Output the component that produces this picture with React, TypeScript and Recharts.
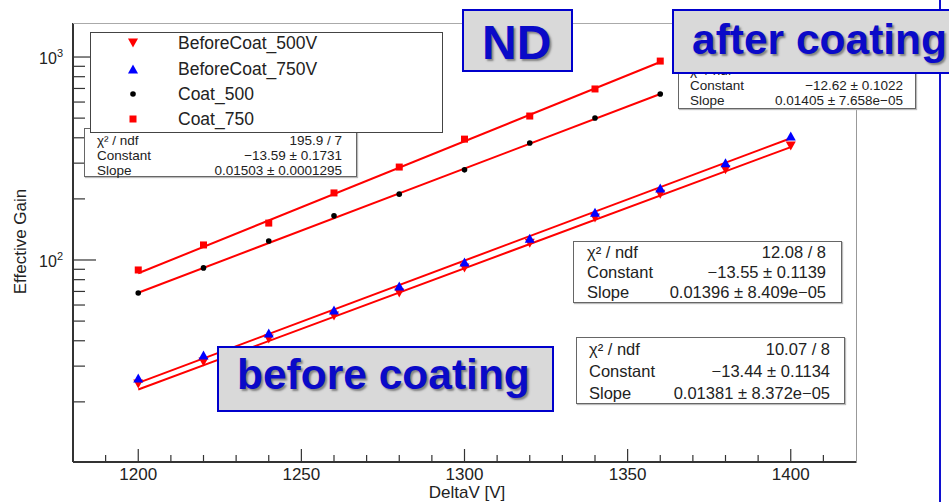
import { ComposedChart, Line, Scatter, XAxis, YAxis } from "recharts";

const FONT = "'Liberation Sans', Arial, Helvetica, sans-serif";

// measured points (DeltaV [V] -> effective gain)
const voltsCoat = [1200, 1220, 1240, 1260, 1280, 1300, 1320, 1340, 1360];
const coat750 = [89.3, 118.6, 152, 214, 287, 394, 512, 696, 955];
const coat500 = [68.8, 91.4, 124, 165, 211, 278, 377, 501, 657];

const voltsBefore = [1200, 1220, 1240, 1260, 1280, 1300, 1320, 1340, 1360, 1380, 1400];
const before750 = [26.2, 34.0, 43.7, 56.7, 74.5, 97.7, 128, 172, 226, 301, 408];
const before500 = [24.5, 31.4, 40.8, 53.0, 68.8, 91.4, 121, 161, 211, 278, 364];

// exponential fit lines, start / end values
const coatFitVolts = [1200, 1360];
const coat750Fit = [86, 945];
const coat500Fit = [69, 657];
const beforeFitVolts = [1200, 1400];
const before750Fit = [24.8, 398];
const before500Fit = [23.0, 360];

const xTicks = [1190, 1200, 1210, 1220, 1230, 1240, 1250, 1260, 1270, 1280, 1290, 1300, 1310, 1320, 1330, 1340, 1350, 1360, 1370, 1380, 1390, 1400, 1410];
const yTicks = [20, 30, 40, 50, 60, 70, 80, 90, 100, 200, 300, 400, 500, 600, 700, 800, 900, 1000];

const pts = (xs: number[], ys: number[]) => xs.map((x, i) => ({ x, y: ys[i] }));

const RED = "#ff0000";
const BLUE = "#0000ff";

const TriDown = (p: any) => (
  <polygon points={`${p.cx - 5},${p.cy - 4.5} ${p.cx + 5},${p.cy - 4.5} ${p.cx},${p.cy + 4.5}`} fill={RED} />
);
const TriUp = (p: any) => (
  <polygon points={`${p.cx - 5},${p.cy + 4.5} ${p.cx + 5},${p.cy + 4.5} ${p.cx},${p.cy - 4.5}`} fill={BLUE} />
);
const Dot = (p: any) => <circle cx={p.cx} cy={p.cy} r={2.8} fill="#000" />;
const Square = (p: any) => <rect x={p.cx - 3.5} y={p.cy - 3.5} width={7} height={7} fill={RED} />;

const XTick = (props: any) => {
  const { x, y, payload } = props;
  const major = payload.value % 50 === 0;
  return (
    <g>
      <line x1={x} y1={y} x2={x} y2={y - (major ? 13 : 7)} stroke="#333" strokeWidth={1.2} />
      {major && (
        <text x={x} y={y + 18} textAnchor="middle" fontSize={17} fill="#222" fontFamily={FONT}>
          {payload.value}
        </text>
      )}
    </g>
  );
};

const YTick = (props: any) => {
  const { x, y, payload } = props;
  const v = payload.value;
  const major = v === 100 || v === 1000;
  return (
    <g>
      <line x1={x} y1={y} x2={x + (major ? 23 : 12)} y2={y} stroke="#333" strokeWidth={1.2} />
      {major && (
        <text x={x - 10} y={y + 7} textAnchor="end" fontSize={16} fill="#222" fontFamily={FONT}>
          <tspan>10</tspan>
          <tspan fontSize={11} dy={-7}>{v === 100 ? "2" : "3"}</tspan>
        </text>
      )}
    </g>
  );
};

const abs = (left: number, top: number, width: number, height: number): React.CSSProperties => ({
  position: "absolute",
  left,
  top,
  width,
  height,
  boxSizing: "border-box",
});

function FitBox(props: {
  left: number; top: number; width: number; height: number;
  rowTop: number; rowH: number; fontSize: number; padL: number; padR: number;
  rows: [string, string][];
}) {
  const { left, top, width, height, rowTop, rowH, fontSize, padL, padR, rows } = props;
  return (
    <div style={{ ...abs(left, top, width, height), background: "#fff", border: "1.5px solid #666", boxShadow: "1px 1px 1px #bbb" }}>
      {rows.map(([k, v], i) => (
        <div
          key={k}
          style={{
            position: "absolute",
            left: padL,
            right: padR,
            top: rowTop + i * rowH,
            height: rowH,
            lineHeight: `${rowH}px`,
            fontSize,
            fontFamily: FONT,
            color: "#222",
            display: "flex",
            justifyContent: "space-between",
            whiteSpace: "nowrap",
          }}
        >
          <span>{k}</span>
          <span>{v}</span>
        </div>
      ))}
    </div>
  );
}

function Tag(props: { left: number; top: number; width: number; height: number; text: string; fs: number; textLeft: number; baseline: number }) {
  const { left, top, width, height, text, fs, textLeft, baseline } = props;
  return (
    <div style={{ ...abs(left, top, width, height), background: "#d9d9d9", border: "2px solid #0000cc" }}>
      <div
        style={{
          position: "absolute",
          left: textLeft - left - 2,
          top: baseline - top - 2 - 0.8465 * fs,
          fontSize: fs,
          lineHeight: `${fs}px`,
          fontWeight: "bold",
          fontFamily: FONT,
          color: "#0a0ac8",
          textShadow: "2px 2px 2px rgba(60,60,60,0.55)",
          whiteSpace: "nowrap",
        }}
      >
        {text}
      </div>
    </div>
  );
}

const legendItems: [string, (p: any) => JSX.Element][] = [
  ["BeforeCoat_500V", TriDown],
  ["BeforeCoat_750V", TriUp],
  ["Coat_500", Dot],
  ["Coat_750", Square],
];
const legendRows = [43, 69, 94, 119];

export default function App() {
  return (
    <div style={{ position: "absolute", left: 0, top: 0, width: 949, height: 502, background: "#fff", overflow: "hidden" }}>
      <ComposedChart width={949} height={502} margin={{ top: 23, right: 93, bottom: 0, left: 0 }}>
        <XAxis
          dataKey="x"
          type="number"
          domain={[1180, 1420]}
          allowDataOverflow
          ticks={xTicks}
          interval={0}
          height={40}
          tickSize={0}
          tickMargin={0}
          tickLine={false}
          tick={XTick}
          axisLine={{ stroke: "#333", strokeWidth: 2 }}
        />
        <YAxis
          dataKey="y"
          type="number"
          scale="log"
          domain={[10.11, 1471]}
          allowDataOverflow
          ticks={yTicks}
          interval={0}
          width={73}
          tickSize={0}
          tickMargin={0}
          tickLine={false}
          tick={YTick}
          axisLine={{ stroke: "#333", strokeWidth: 2 }}
        />
        <Line data={pts(coatFitVolts, coat750Fit)} dataKey="y" type="linear" dot={false} stroke={RED} strokeWidth={2} isAnimationActive={false} />
        <Line data={pts(coatFitVolts, coat500Fit)} dataKey="y" type="linear" dot={false} stroke={RED} strokeWidth={2} isAnimationActive={false} />
        <Line data={pts(beforeFitVolts, before750Fit)} dataKey="y" type="linear" dot={false} stroke={RED} strokeWidth={2} isAnimationActive={false} />
        <Line data={pts(beforeFitVolts, before500Fit)} dataKey="y" type="linear" dot={false} stroke={RED} strokeWidth={2} isAnimationActive={false} />
        <Scatter name="BeforeCoat_500V" data={pts(voltsBefore, before500)} dataKey="y" shape={TriDown} isAnimationActive={false} />
        <Scatter name="BeforeCoat_750V" data={pts(voltsBefore, before750)} dataKey="y" shape={TriUp} isAnimationActive={false} />
        <Scatter name="Coat_500" data={pts(voltsCoat, coat500)} dataKey="y" shape={Dot} isAnimationActive={false} />
        <Scatter name="Coat_750" data={pts(voltsCoat, coat750)} dataKey="y" shape={Square} isAnimationActive={false} />
      </ComposedChart>

      {/* top / right frame */}
      <div style={{ ...abs(73, 23, 784, 440), borderTop: "1px solid #aaa", borderRight: "1.5px solid #999", pointerEvents: "none" }} />

      {/* axis titles */}
      <div style={{ position: "absolute", left: 367, width: 200, top: 483.6, fontSize: 17, lineHeight: "17px", fontFamily: FONT, color: "#222", textAlign: "center" }}>
        DeltaV [V]
      </div>
      <div style={{ position: "absolute", left: -80, width: 200, top: 232.5, fontSize: 17, lineHeight: "17px", fontFamily: FONT, color: "#222", textAlign: "center", transform: "rotate(-90deg)" }}>
        Effective Gain
      </div>

      {/* fit statistics */}
      <FitBox left={84} top={128} width={273} height={49} rowTop={3.5} rowH={15} fontSize={13.5} padL={12} padR={14}
        rows={[["χ² / ndf", "195.9 / 7"], ["Constant", "−13.59 ± 0.1731"], ["Slope", "0.01503 ± 0.0001295"]]} />
      <FitBox left={678} top={60} width={238} height={49} rowTop={1.5} rowH={15} fontSize={13.5} padL={11} padR={12}
        rows={[["χ² / ndf", ""], ["Constant", "−12.62 ± 0.1022"], ["Slope", "0.01405 ± 7.658e−05"]]} />
      <FitBox left={573} top={241} width={269} height={62} rowTop={0} rowH={20} fontSize={16.5} padL={13} padR={15}
        rows={[["χ² / ndf", "12.08 / 8"], ["Constant", "−13.55 ± 0.1139"], ["Slope", "0.01396 ± 8.409e−05"]]} />
      <FitBox left={576} top={337} width={269} height={67} rowTop={0} rowH={22} fontSize={16.5} padL={12} padR={14}
        rows={[["χ² / ndf", "10.07 / 8"], ["Constant", "−13.44 ± 0.1134"], ["Slope", "0.01381 ± 8.372e−05"]]} />

      {/* legend */}
      <div style={{ ...abs(90, 32, 353, 101), background: "#fff", border: "1.5px solid #444" }} />
      {legendItems.map(([label, Shape], i) => (
        <div key={label}>
          <svg style={{ position: "absolute", left: 123, top: legendRows[i] - 10, width: 20, height: 20 }}>
            <Shape cx={10} cy={10} />
          </svg>
          <div style={{ position: "absolute", left: 178, top: legendRows[i] - 12.5, height: 25, lineHeight: "25px", fontSize: 17.5, fontFamily: FONT, color: "#222", whiteSpace: "nowrap" }}>
            {label}
          </div>
        </div>
      ))}

      {/* slide annotations */}
      <div style={{ ...abs(939, 0, 2, 502), background: "#1010d0" }} />
      <Tag left={462} top={9} width={111} height={63} text="ND" fs={48} textLeft={482} baseline={60} />
      <Tag left={672} top={9} width={300} height={65} text="after coating" fs={42.5} textLeft={692} baseline={55} />
      <Tag left={217} top={346} width={337} height={66} text="before coating" fs={42.5} textLeft={237} baseline={390} />
    </div>
  );
}
